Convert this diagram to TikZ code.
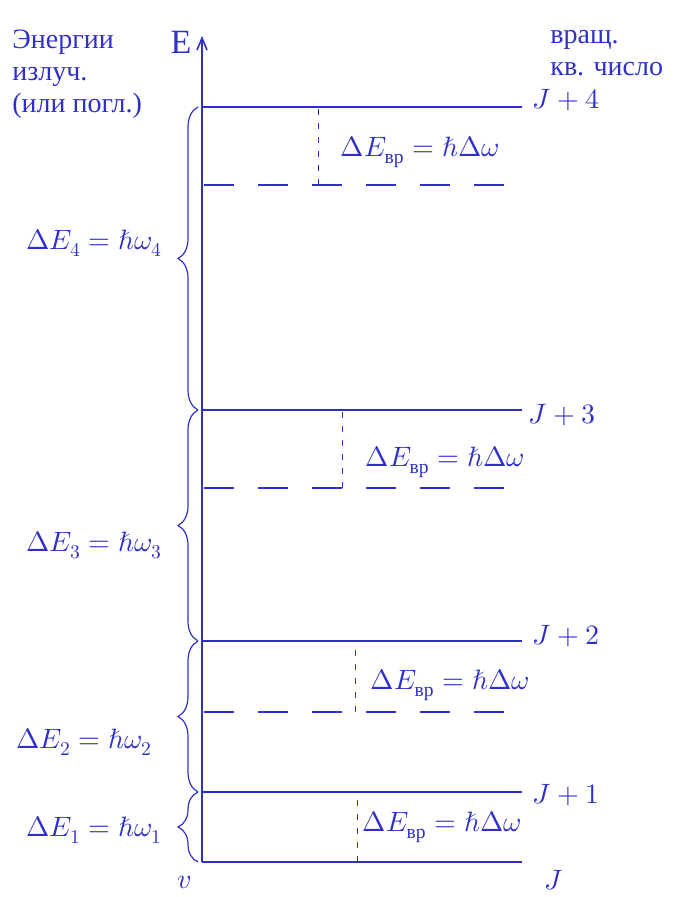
\documentclass[tikz,border=0pt]{standalone}
\usepackage{amsmath}
\usepackage{fontspec}
\usepackage{unicode-math}
\setmainfont{Liberation Serif}
\setmathfont{Latin Modern Math}
\usetikzlibrary{arrows.meta,decorations.pathreplacing}
\definecolor{ink}{RGB}{48,48,200}

\begin{document}
\begin{tikzpicture}[
    x=0.5pt, y=-0.5pt,
    font=\fontsize{14}{16}\selectfont,
    level/.style={draw=ink, line width=0.8pt},
    sublevel/.style={draw=ink, line width=0.6pt, dash pattern=on 15pt off 12pt},
    gap/.style={draw=ink, line width=0.5pt, dash pattern=on 3pt off 4pt},
    brc/.style={draw=ink, line width=0.6pt, decorate, decoration={brace, amplitude=10pt}},
    lab/.style={text=ink, inner sep=1pt},
]
\useasboundingbox (0,0) rectangle (689,897);

% energy axis
\coordinate (o) at (202,862);
\coordinate (top) at (202,36);
\draw[level, -{Straight Barb[length=6pt,width=5pt]}] (o) -- (top);
\node[lab, font=\fontsize{17}{19}\selectfont] (E) at (181,42) {E};
\node[lab, align=left, anchor=north west] (ylab) at (10,28) {Энергии\\ излуч.\\(или погл.)};
\node[lab, align=left, anchor=north west] (jlab) at (548,28) {вращ.\\ кв. число};

% rotational levels
\foreach \n/\y in {0/862, 1/792, 2/641, 3/410, 4/107} {
    \coordinate (l\n) at (202,\y);
    \coordinate (r\n) at (522,\y);
    \draw[level] (l\n) -- (r\n);
}
\node[lab, anchor=west] (j4) at (530,100) {$J+4$};
\node[lab, anchor=west] (j3) at (526,415) {$J+3$};
\node[lab, anchor=west] (j2) at (530,636) {$J+2$};
\node[lab, anchor=west] (j1) at (530,795) {$J+1$};
\node[lab, anchor=west] (j0) at (542,880) {$J$};
\node[lab] (v) at (184,882) {$v$};

% dashed sublevels and spacing marks
\foreach \n/\y/\x/\lx/\ly in {4/185/318/420/152, 3/488/342/445/462, 2/712/355/450/685} {
    \coordinate (d\n) at (204,\y);
    \coordinate (e\n) at (525,\y);
    \draw[sublevel] (d\n) -- (e\n);
    \coordinate (ga\n) at (\x,\y);
    \coordinate (gb\n) at (\x,\y |- l\n);
    \draw[gap] (ga\n) -- (gb\n);
    \node[lab] (rot\n) at (\lx,\ly) {$\Delta E_{\text{вр}} = \hbar\Delta\omega$};
}
\coordinate (ga1) at (357,862);
\coordinate (gb1) at (357,792);
\draw[gap] (ga1) -- (gb1);
\node[lab] (rot1) at (442,827) {$\Delta E_{\text{вр}} = \hbar\Delta\omega$};

% vibrational gaps
\draw[brc] ([xshift=-2pt]l3) -- ([xshift=-2pt]l4);
\draw[brc] ([xshift=-2pt]l2) -- ([xshift=-2pt]l3);
\draw[brc] ([xshift=-2pt]l1) -- ([xshift=-2pt]l2);
\draw[brc] ([xshift=-2pt]l0) -- ([xshift=-2pt]l1);
\node[lab, anchor=east] (dE4) at (165,243) {$\Delta E_4 = \hbar\omega_4$};
\node[lab, anchor=east] (dE3) at (165,545) {$\Delta E_3 = \hbar\omega_3$};
\node[lab, anchor=east] (dE2) at (155,742) {$\Delta E_2 = \hbar\omega_2$};
\node[lab, anchor=east] (dE1) at (165,830) {$\Delta E_1 = \hbar\omega_1$};
\end{tikzpicture}
\end{document}
